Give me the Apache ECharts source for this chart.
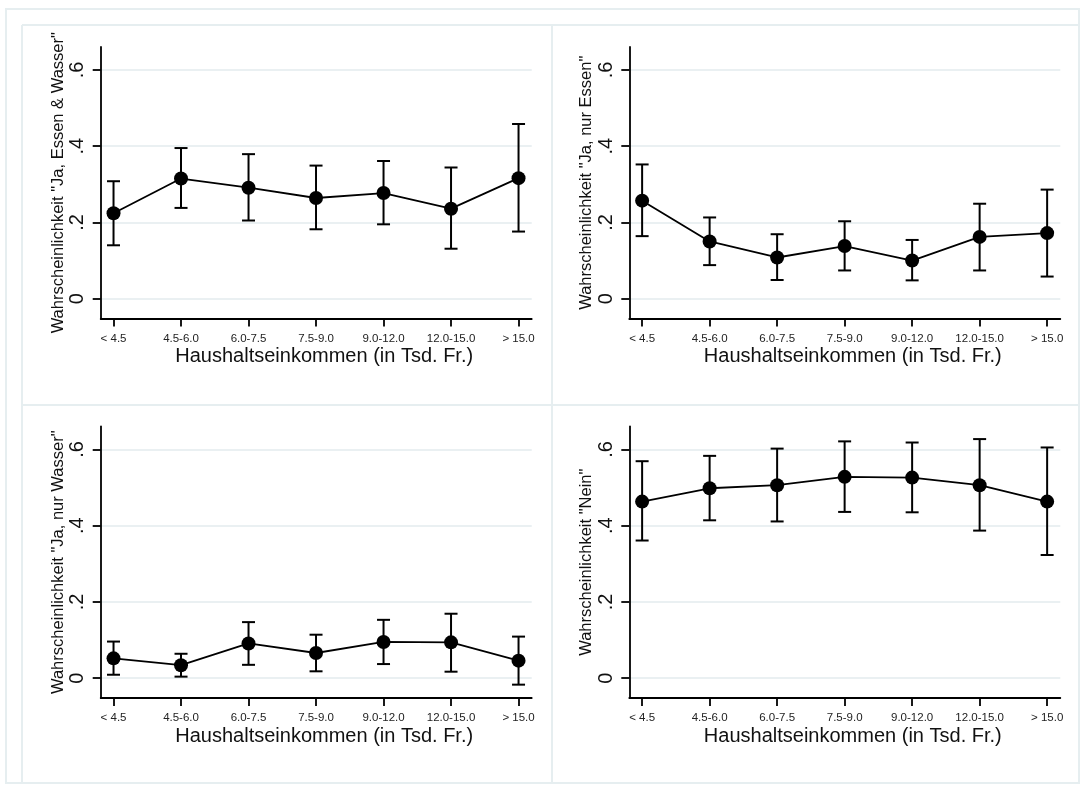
<!DOCTYPE html>
<html>
<head>
<meta charset="utf-8">
<script src="https://cdn.jsdelivr.net/npm/echarts@6/dist/echarts.min.js"></script>
<style>
html,body{margin:0;padding:0;background:#fff;}
#chart{width:1085px;height:794px;}
</style>
</head>
<body>
<div id="chart"></div>
<script>
const categories = ['< 4.5', '4.5-6.0', '6.0-7.5', '7.5-9.0', '9.0-12.0', '12.0-15.0', '> 15.0'];
const yTicks = [0, 0.2, 0.4, 0.6];
const xTitle = 'Haushaltseinkommen (in Tsd. Fr.)';
const yTitles = ['Wahrscheinlichkeit "Ja, Essen & Wasser"', 'Wahrscheinlichkeit "Ja, nur Essen"', 'Wahrscheinlichkeit "Ja, nur Wasser"', 'Wahrscheinlichkeit "Nein"'];

const essenWasserEst = [0.224, 0.315, 0.291, 0.264, 0.277, 0.236, 0.316];
const essenWasserLo  = [0.140, 0.238, 0.205, 0.182, 0.195, 0.131, 0.176];
const essenWasserHi  = [0.308, 0.395, 0.379, 0.349, 0.361, 0.344, 0.458];

const nurEssenEst = [0.257, 0.150, 0.108, 0.138, 0.100, 0.162, 0.172];
const nurEssenLo  = [0.164, 0.088, 0.049, 0.074, 0.048, 0.074, 0.058];
const nurEssenHi  = [0.352, 0.213, 0.169, 0.203, 0.154, 0.249, 0.286];

const nurWasserEst = [0.052, 0.034, 0.091, 0.066, 0.095, 0.094, 0.046];
const nurWasserLo  = [0.009, 0.004, 0.035, 0.018, 0.037, 0.017, -0.017];
const nurWasserHi  = [0.096, 0.064, 0.147, 0.114, 0.153, 0.169, 0.109];

const neinEst = [0.463, 0.498, 0.506, 0.528, 0.526, 0.506, 0.463];
const neinLo  = [0.361, 0.414, 0.411, 0.436, 0.435, 0.387, 0.323];
const neinHi  = [0.569, 0.583, 0.602, 0.621, 0.618, 0.627, 0.605];

const panels = [
  {est: essenWasserEst, lo: essenWasserLo, hi: essenWasserHi},
  {est: nurEssenEst, lo: nurEssenLo, hi: nurEssenHi},
  {est: nurWasserEst, lo: nurWasserLo, hi: nurWasserHi},
  {est: neinEst, lo: neinLo, hi: neinHi}
];

const FONT = '"Liberation Sans", Arial, sans-serif';
const gridPos = [
  {left: 100.7, top: 47, width: 431, height: 271.5},
  {left: 629.3, top: 47, width: 431, height: 271.5},
  {left: 100.7, top: 426.5, width: 431, height: 271.5},
  {left: 629.3, top: 426.5, width: 431, height: 271.5}
];
const catIdx = categories.map((c, i) => i);
const gridColor = '#e3ebee';
const frameColor = '#e6eef0';

const grids = [], xAxes = [], yAxes = [], series = [];
panels.forEach((p, k) => {
  grids.push(Object.assign({containLabel: false}, gridPos[k]));
  xAxes.push({
    type: 'value', gridIndex: k, min: -0.19, max: 6.195,
    axisLine: {show: true, onZero: false, lineStyle: {color: '#000', width: 1.8}},
    axisTick: {show: true, customValues: catIdx, length: 8, lineStyle: {color: '#000', width: 1.8}},
    axisLabel: {show: true, customValues: catIdx, margin: 14, fontSize: 11.5, color: '#222', fontFamily: FONT,
      formatter: v => categories[Math.round(v)]},
    splitLine: {show: false},
    name: xTitle, nameLocation: 'middle', nameGap: 28,
    nameTextStyle: {fontSize: 20, color: '#111', fontFamily: FONT, padding: [0, 0, 0, 16]}
  });
  yAxes.push({
    type: 'value', gridIndex: k, min: -0.052, max: 0.66,
    axisLine: {show: true, onZero: false, lineStyle: {color: '#000', width: 1.8}},
    axisTick: {show: true, customValues: yTicks, length: 8, lineStyle: {color: '#000', width: 1.8}},
    axisLabel: {show: true, customValues: yTicks, rotate: 90, margin: 13, fontSize: 20, color: '#111', fontFamily: FONT,
      formatter: v => v === 0 ? '0' : String(v).replace(/^0/, '')},
    splitLine: {show: true, lineStyle: {color: gridColor, width: 1.6}},
    name: yTitles[k], nameLocation: 'middle', nameGap: 33, nameRotate: 90,
    nameTextStyle: {fontSize: 16.5, color: '#111', fontFamily: FONT}
  });
  const errData = p.est.map((e, i) => [i, p.lo[i], p.hi[i]]);
  series.push({
    type: 'custom', xAxisIndex: k, yAxisIndex: k, z: 2,
    data: errData,
    encode: {x: 0, y: [1, 2]},
    renderItem: (params, api) => {
      const x = api.value(0);
      const lo = api.coord([x, api.value(1)]);
      const hi = api.coord([x, api.value(2)]);
      const cap = 6.5;
      const st = {stroke: '#000', lineWidth: 2};
      return {type: 'group', children: [
        {type: 'line', shape: {x1: lo[0], y1: lo[1], x2: hi[0], y2: hi[1]}, style: st},
        {type: 'line', shape: {x1: lo[0] - cap, y1: lo[1], x2: lo[0] + cap, y2: lo[1]}, style: st},
        {type: 'line', shape: {x1: hi[0] - cap, y1: hi[1], x2: hi[0] + cap, y2: hi[1]}, style: st}
      ]};
    }
  });
  series.push({
    type: 'line', xAxisIndex: k, yAxisIndex: k, z: 3,
    data: p.est.map((e, i) => [i, e]),
    symbol: 'circle', symbolSize: 14, showSymbol: true,
    itemStyle: {color: '#000'},
    lineStyle: {color: '#000', width: 1.8},
    animation: false
  });
});

const chart = echarts.init(document.getElementById('chart'), null, {renderer: 'canvas'});
chart.setOption({
  animation: false,
  backgroundColor: '#fff',
  grid: grids, xAxis: xAxes, yAxis: yAxes, series: series,
  graphic: [
    {type: 'rect', shape: {x: 6, y: 9, width: 1073, height: 774}, style: {fill: 'none', stroke: frameColor, lineWidth: 2}, silent: true},
    {type: 'line', shape: {x1: 22, y1: 25, x2: 1079, y2: 25}, style: {stroke: frameColor, lineWidth: 2}, silent: true},
    {type: 'line', shape: {x1: 22, y1: 25, x2: 22, y2: 783}, style: {stroke: frameColor, lineWidth: 2}, silent: true},
    {type: 'line', shape: {x1: 552, y1: 25, x2: 552, y2: 783}, style: {stroke: frameColor, lineWidth: 2}, silent: true},
    {type: 'line', shape: {x1: 22, y1: 405, x2: 1079, y2: 405}, style: {stroke: frameColor, lineWidth: 2}, silent: true}
  ]
});
</script>
</body>
</html>
